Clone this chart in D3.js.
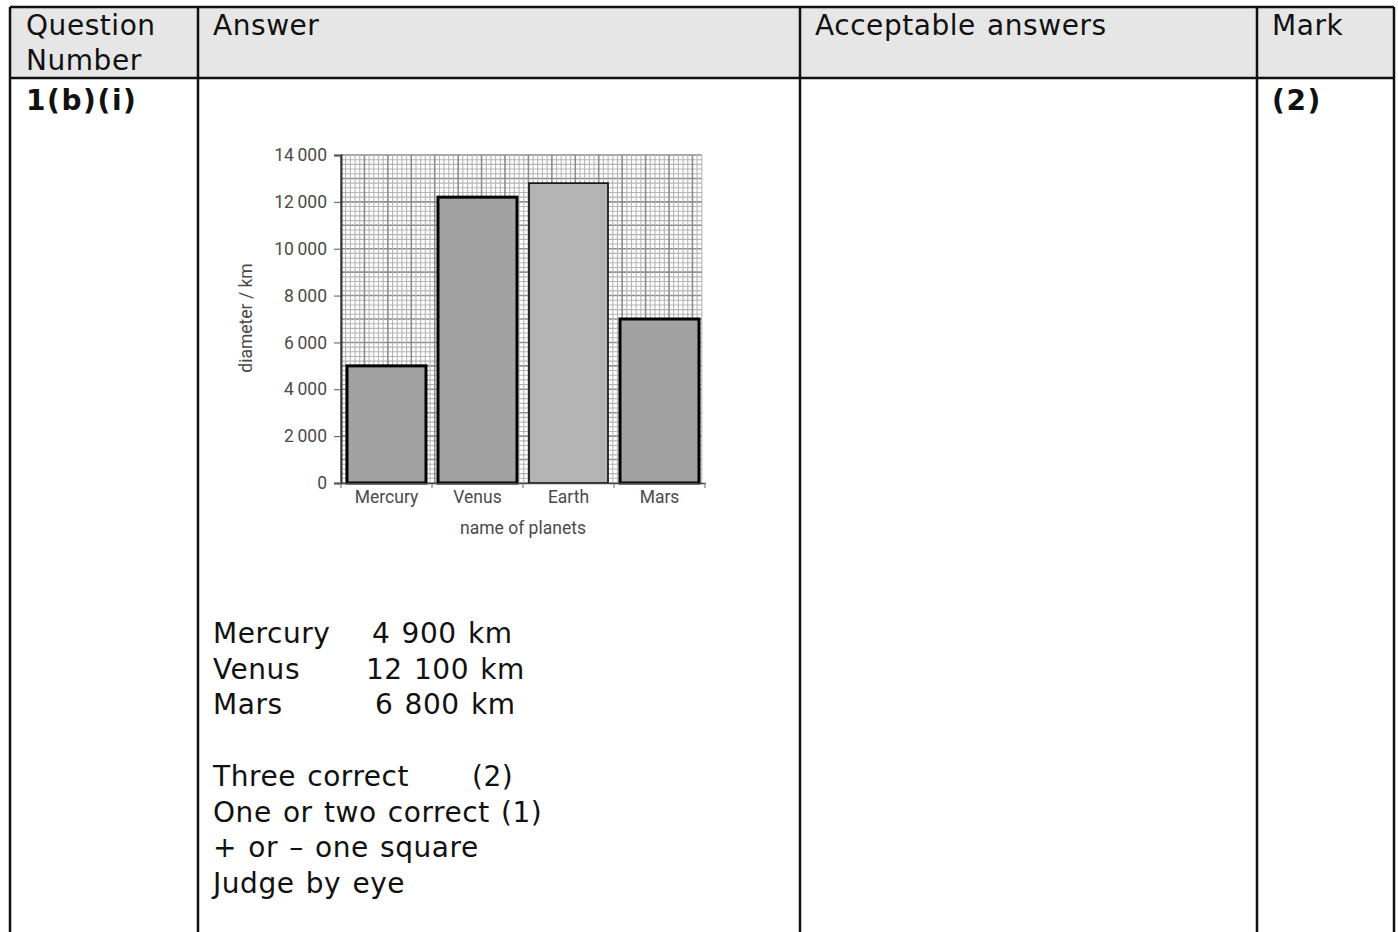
<!DOCTYPE html>
<meta charset="utf-8">
<style>
html,
body {
    margin: 0;
    padding: 0;
    overflow: hidden;
    background: #fff;
}

svg {
    display: block;
}

.doc text {
    font-family: "DejaVu Sans", Verdana, sans-serif;
    font-size: 28px;
    letter-spacing: 0.55px;
    word-spacing: 1.8px;
    fill: #111;
}

.doc text.bold {
    font-weight: bold;
    letter-spacing: 1.6px;
}

.chart text {
    font-family: Roboto, "Open Sans", sans-serif;
    font-size: 17.5px;
    fill: #4a4a4a;
}
</style>
<svg width="1398" height="932"></svg>
<script src="https://d3js.org/d3.v7.min.js"></script>
<script>
// planet bar chart values (km)
var planets = ["Mercury", "Venus", "Earth", "Mars"];
var diameters = [5000, 12200, 12800, 7000];
var yTicks = [0, 2000, 4000, 6000, 8000, 10000, 12000, 14000];

// mark scheme text
var headers = ["Question\nNumber", "Answer", "Acceptable answers", "Mark"];
var questionNo = "1(b)(i)";
var markText = "(2)";
var answerNames = ["Mercury", "Venus", "Mars"];
var answerValues = ["4 900 km", "12 100 km", "6 800 km"];
var markingNotes = ["Three correct", "One or two correct (1)", "+ or \u2013 one square", "Judge by eye"];

var svg = d3.select("svg");
var doc = svg.append("g").attr("class", "doc");

// table columns
var colX = [10, 198, 800, 1257, 1394];
var tableTop = 7, headY = 78;

doc.append("rect")
    .attr("x", colX[0]).attr("y", tableTop)
    .attr("width", colX[4] - colX[0]).attr("height", headY - tableTop)
    .attr("fill", "#e6e6e6");

var lines = doc.append("g").attr("stroke", "#111").attr("stroke-width", 2.5);
lines.append("line").attr("x1", colX[0]).attr("x2", colX[4]).attr("y1", tableTop).attr("y2", tableTop);
lines.append("line").attr("x1", colX[0]).attr("x2", colX[4]).attr("y1", headY).attr("y2", headY);
colX.forEach(function(x) {
    lines.append("line").attr("x1", x).attr("x2", x).attr("y1", tableTop).attr("y2", 940);
});

var textX = [26, 213, 815, 1272];
headers.forEach(function(h, i) {
    h.split("\n").forEach(function(line, j) {
        doc.append("text").attr("x", textX[i]).attr("y", 35 + j * 35).text(line);
    });
});
doc.append("text").attr("class", "bold").attr("x", textX[0]).attr("y", 110).text(questionNo);
doc.append("text").attr("class", "bold").attr("x", textX[3]).attr("y", 110).text(markText);

// answer lines
var valX = [372, 366, 375];
answerNames.forEach(function(n, i) {
    doc.append("text").attr("x", 213).attr("y", 643 + i * 35.5).text(n);
    doc.append("text").attr("x", valX[i]).attr("y", 643 + i * 35.5).text(answerValues[i]);
});
markingNotes.forEach(function(n, i) {
    doc.append("text").attr("x", 213).attr("y", 786 + i * 35.5).text(n);
});
doc.append("text").attr("x", 472).attr("y", 786).text("(2)");

// chart
var chart = svg.append("g").attr("class", "chart");
var plotL = 341, plotR = 705, plotT = 155, plotB = 483;

var y = d3.scaleLinear().domain([0, 14000]).range([plotB, plotT]);
var x = d3.scaleBand().domain(planets).range([plotL, plotR]).padding(0);

// graph paper grid, 200 km squares
var sq = y(0) - y(200);
var nCols = Math.floor((plotR - plotL) / sq);
var gx = d3.scaleLinear().domain([0, nCols]).range([plotL, plotL + nCols * sq]);
var grid = chart.append("g");
d3.range(0, 14001, 200).forEach(function(v, i) {
    grid.append("line")
        .attr("x1", plotL).attr("x2", gx(nCols))
        .attr("y1", y(v)).attr("y2", y(v))
        .attr("stroke", i % 5 === 0 ? "#8c8c8c" : "#b4b4b4")
        .attr("stroke-width", i % 5 === 0 ? 1.6 : 1.1);
});
d3.range(0, nCols + 1).forEach(function(c) {
    grid.append("line")
        .attr("x1", gx(c)).attr("x2", gx(c))
        .attr("y1", plotT).attr("y2", plotB)
        .attr("stroke", c % 5 === 0 ? "#8c8c8c" : "#b4b4b4")
        .attr("stroke-width", c % 5 === 0 ? 1.6 : 1.1);
});

// bars
chart.append("g").selectAll("rect")
    .data(planets)
    .enter().append("rect")
    .attr("x", function(d) { return x(d) + 6; })
    .attr("width", x.bandwidth() - 12)
    .attr("y", function(d, i) { return y(diameters[i]); })
    .attr("height", function(d, i) { return y(0) - y(diameters[i]); })
    .attr("fill", function(d) { return d === "Earth" ? "#b4b4b4" : "#a2a2a2"; })
    .attr("stroke", "#000")
    .attr("stroke-width", function(d) { return d === "Earth" ? 1.5 : 3; });

// y axis
var yAxis = chart.append("g")
    .attr("transform", "translate(" + plotL + ",0)")
    .call(d3.axisLeft(y).tickValues(yTicks).tickSize(7).tickPadding(7)
        .tickFormat(function(d) { return d3.format(",")(d).replace(",", "\u2009"); }));
yAxis.select(".domain").attr("stroke", "#333").attr("stroke-width", 2);
yAxis.selectAll(".tick line").attr("stroke", "#555");
yAxis.selectAll("text").attr("font-size", null).attr("fill", null);
yAxis.attr("font-family", null).attr("font-size", null);

// x axis
var xAxis = chart.append("g")
    .attr("transform", "translate(0," + plotB + ")")
    .call(d3.axisBottom(x).tickSize(0).tickPadding(8));
xAxis.select(".domain").attr("stroke", "#444").attr("stroke-width", 1.5);
xAxis.attr("font-family", null).attr("font-size", null);
xAxis.selectAll(".tick text").attr("fill", null);
planets.concat([null]).forEach(function(d) {
    var bx = d ? x(d) : plotR;
    xAxis.append("line").attr("x1", bx).attr("x2", bx).attr("y1", 0).attr("y2", 5)
        .attr("stroke", "#667");
});

chart.append("text")
    .attr("x", (plotL + plotR) / 2).attr("y", 534)
    .attr("text-anchor", "middle")
    .text("name of planets");

chart.append("text")
    .attr("transform", "translate(252,318) rotate(-90)")
    .attr("text-anchor", "middle")
    .text("diameter / km");
</script>
